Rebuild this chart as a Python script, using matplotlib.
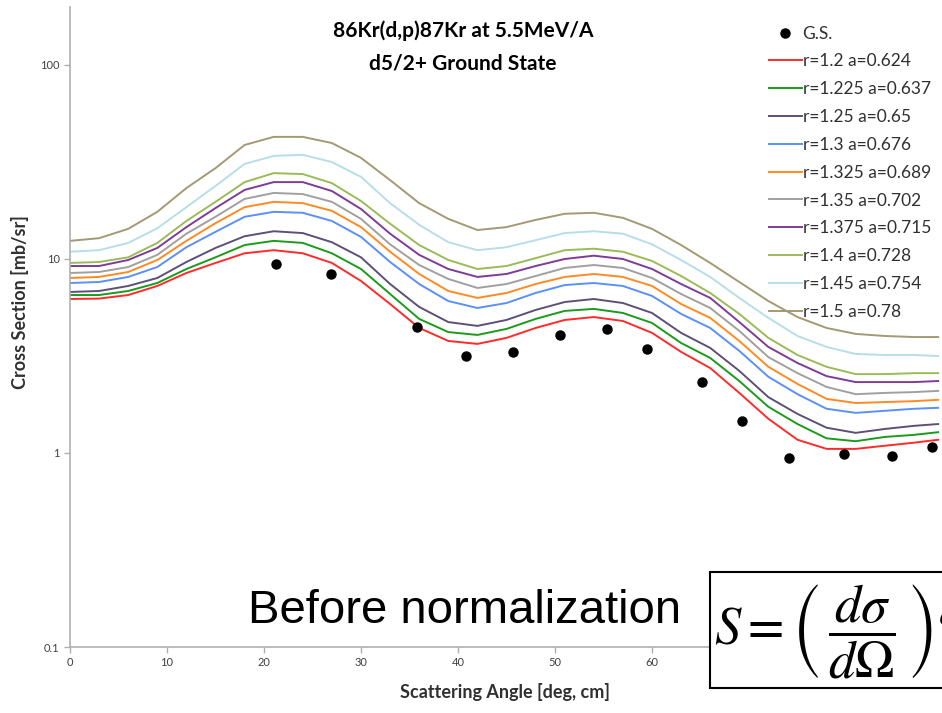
import numpy as np
import matplotlib
matplotlib.use("Agg")
import matplotlib.pyplot as plt
from matplotlib.patches import Rectangle

plt.rcParams['font.family'] = ['Lato', 'DejaVu Sans']
plt.rcParams['mathtext.fontset'] = 'stix'

# scattering angles (deg, cm) for the DWBA curves
angle = [0, 3, 6, 9, 12, 15, 18, 21, 24, 27, 30, 33, 36, 39, 42, 45, 48, 51,
         54, 57, 60, 63, 66, 69, 72, 75, 78, 81, 84, 87, 89.5]

# cross sections [mb/sr] for each optical-model parameter set
xs_120 = [6.22, 6.25, 6.52, 7.26, 8.47, 9.54, 10.7, 11.1, 10.7, 9.54, 7.70, 5.86, 4.41, 3.78, 3.65, 3.92,
          4.41, 4.85, 5.02, 4.79, 4.16, 3.32, 2.74, 2.04, 1.50, 1.17, 1.05, 1.05, 1.09, 1.13, 1.17]
xs_1225 = [6.52, 6.52, 6.84, 7.52, 8.88, 10.2, 11.8, 12.4, 12.1, 10.7, 8.88, 6.60, 4.91, 4.20, 4.06, 4.36,
           4.91, 5.40, 5.53, 5.27, 4.68, 3.69, 3.09, 2.35, 1.73, 1.41, 1.19, 1.15, 1.21, 1.24, 1.28]
xs_125 = [6.76, 6.84, 7.26, 7.98, 9.65, 11.4, 13.1, 13.9, 13.6, 12.2, 10.2, 7.43, 5.66, 4.73, 4.52, 4.85,
          5.46, 6.00, 6.22, 5.93, 5.27, 4.16, 3.48, 2.65, 1.94, 1.59, 1.35, 1.27, 1.33, 1.38, 1.41]
xs_130 = [7.52, 7.61, 8.08, 9.09, 11.5, 13.8, 16.5, 17.5, 17.3, 15.7, 13.0, 9.65, 7.43, 6.07, 5.59, 5.93,
          6.68, 7.34, 7.52, 7.26, 6.45, 5.21, 4.41, 3.36, 2.47, 2.01, 1.69, 1.61, 1.65, 1.69, 1.71]
xs_1325 = [7.98, 8.08, 8.57, 9.88, 12.4, 15.3, 18.5, 19.7, 19.4, 17.7, 14.6, 10.9, 8.37, 6.84, 6.30, 6.68,
           7.43, 8.08, 8.37, 8.08, 7.26, 5.86, 4.97, 3.78, 2.78, 2.27, 1.90, 1.81, 1.83, 1.85, 1.88]
xs_135 = [8.47, 8.57, 9.09, 10.5, 13.5, 16.5, 20.4, 21.9, 21.6, 19.7, 16.1, 11.9, 9.31, 7.89, 7.09, 7.43,
          8.17, 8.99, 9.31, 8.99, 7.98, 6.60, 5.59, 4.26, 3.12, 2.58, 2.19, 2.01, 2.04, 2.06, 2.09]
xs_1375 = [9.20, 9.20, 9.88, 11.4, 14.6, 18.3, 22.7, 24.9, 24.9, 22.4, 18.1, 13.5, 10.5, 8.88, 8.08, 8.37,
           9.20, 10.0, 10.4, 10.0, 8.88, 7.43, 6.30, 4.73, 3.52, 2.91, 2.49, 2.32, 2.32, 2.32, 2.35]
xs_140 = [9.54, 9.65, 10.2, 12.1, 15.7, 19.7, 24.9, 27.7, 27.4, 24.6, 19.9, 15.2, 11.8, 9.88, 8.88, 9.20,
          10.1, 11.1, 11.3, 10.9, 9.77, 8.17, 6.68, 5.21, 3.92, 3.20, 2.78, 2.55, 2.55, 2.58, 2.58]
xs_145 = [10.9, 11.1, 12.1, 14.4, 18.5, 23.8, 30.9, 34.0, 34.4, 31.6, 26.5, 19.4, 15.0, 12.2, 11.1, 11.5,
          12.5, 13.6, 13.9, 13.5, 11.9, 9.88, 8.08, 6.30, 4.97, 4.01, 3.52, 3.24, 3.20, 3.20, 3.16]
xs_150 = [12.4, 12.8, 14.3, 17.5, 23.2, 29.4, 38.7, 42.6, 42.6, 39.6, 33.2, 25.5, 19.4, 16.1, 14.1, 14.6,
          15.9, 17.1, 17.3, 16.3, 14.3, 11.8, 9.54, 7.61, 6.07, 5.02, 4.41, 4.11, 4.01, 3.96, 3.96]

# measured ground-state points
gs_angle = [21.2, 26.9, 35.8, 40.8, 45.7, 50.5, 55.4, 59.5, 65.2, 69.3, 74.1, 79.8, 84.7, 88.9]
gs_xs = [9.42, 8.37, 4.46, 3.16, 3.32, 4.06, 4.36, 3.44, 2.32, 1.46, 0.94, 0.99, 0.97, 1.07]

labels = ['r=1.2 a=0.624', 'r=1.225 a=0.637', 'r=1.25 a=0.65', 'r=1.3 a=0.676',
          'r=1.325 a=0.689', 'r=1.35 a=0.702', 'r=1.375 a=0.715', 'r=1.4 a=0.728',
          'r=1.45 a=0.754', 'r=1.5 a=0.78']
colors = ['#ff2b2b', '#1c9a1c', '#5e4f78', '#5b8ff9', '#ff8a24',
          '#a0a0a0', '#7f3b96', '#9bbb59', '#b7dee8', '#a39a73']
curves = [xs_120, xs_1225, xs_125, xs_130, xs_1325, xs_135, xs_1375, xs_140, xs_145, xs_150]

W, H = 942, 713
fig = plt.figure(figsize=(W / 100, H / 100), dpi=100)
ax = fig.add_axes([70 / W, 66 / H, 873 / W, 640 / H])

gs, = ax.plot(gs_angle, gs_xs, 'o', color='black', ms=6.5, label='G.S.', zorder=5)
handles = [gs]
for ys, c, lab in zip(curves, colors, labels):
    ln, = ax.plot(angle, ys, color=c, lw=1.4, label=lab)
    handles.append(ln)

ax.set_yscale('log')
ax.set_xlim(0, 90)
ax.set_ylim(0.1, 199)
ax.set_yticks([0.1, 1, 10, 100])
ax.set_yticklabels(['0.1', '1', '10', '100'])
ax.yaxis.set_minor_locator(matplotlib.ticker.NullLocator())
ax.set_xticks(range(0, 70, 10))
for s in ['top', 'right']:
    ax.spines[s].set_visible(False)
for s in ['left', 'bottom']:
    ax.spines[s].set_color('#b0b0b0')
    ax.spines[s].set_linewidth(1.2)
ax.tick_params(colors='#b0b0b0', labelcolor='#404040', labelsize=8, length=4, width=1)

ax.legend(handles=handles, loc='upper left', bbox_to_anchor=(760 / W, 1 - 17 / H),
          bbox_transform=fig.transFigure, frameon=False, fontsize=12.5,
          handlelength=1.9, handletextpad=0.05, labelspacing=0.68,
          borderpad=0, labelcolor='#303030')

fig.text(463 / W, 1 - 31 / H, '86Kr(d,p)87Kr at 5.5MeV/A', ha='center', va='center',
         fontsize=15, fontweight='bold')
fig.text(463 / W, 1 - 63 / H, 'd5/2+ Ground State', ha='center', va='center',
         fontsize=15, fontweight='bold')
fig.text(20 / W, 1 - 302 / H, 'Cross Section [mb/sr]', rotation=90, ha='center', va='center',
         fontsize=13, fontweight='bold', color='#303030')
fig.text(505 / W, 1 - 692 / H, 'Scattering Angle [deg, cm]', ha='center', va='center',
         fontsize=13, fontweight='bold', color='#303030')

fig.text(248 / W, 1 - 623 / H, 'Before normalization', ha='left', va='baseline',
         fontsize=34, family='Liberation Sans')

box = Rectangle((710 / W, 1 - 688 / H), 300 / W, 116 / H, transform=fig.transFigure,
                facecolor='white', edgecolor='black', lw=1.5, zorder=10)
fig.patches.append(box)
fig.text(714 / W, 1 - 631 / H, r'$S=\left(\,\dfrac{d\sigma}{d\Omega}\,\right)^{e}$',
         ha='left', va='center', fontsize=38, zorder=11)

fig.savefig('out.png', dpi=100)
